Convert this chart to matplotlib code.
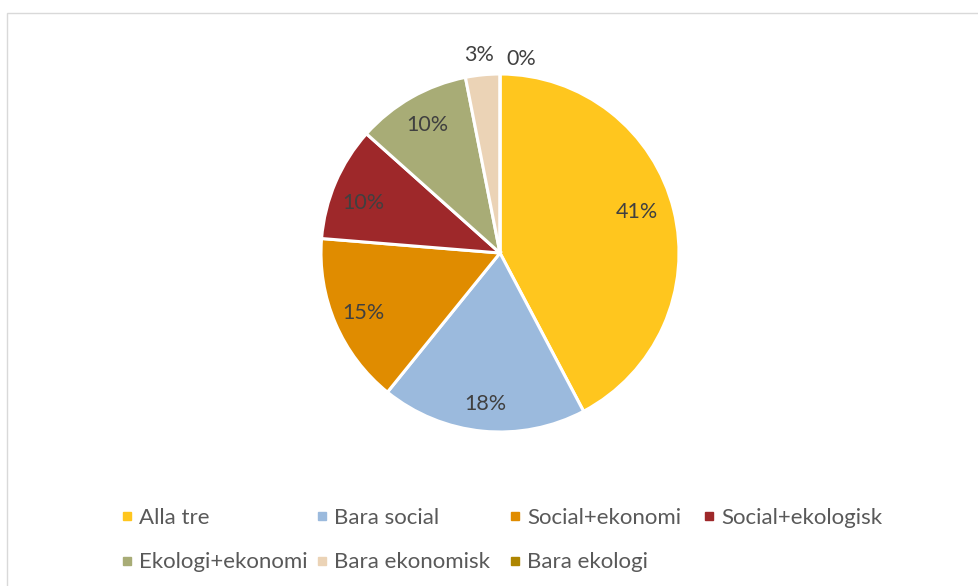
import numpy as np
import matplotlib
matplotlib.use('Agg')
import matplotlib.pyplot as plt
from matplotlib.lines import Line2D
from matplotlib.patches import Rectangle

plt.rcParams['font.family'] = ['Lato', 'DejaVu Sans']

categories = ['Alla tre', 'Bara social', 'Social+ekonomi', 'Social+ekologisk',
              'Ekologi+ekonomi', 'Bara ekonomisk', 'Bara ekologi']
values = [41, 18, 15, 10, 10, 3, 0]
colors = ['#FFC61E', '#9BBADD', '#E08C00', '#9E282A', '#A8AC76', '#EBD3B6', '#AE8500']

# label distance from centre (radii) and a small nudge in pixels (x, y up)
label_r = [0.80, 0.85, 0.83, 0.82, 0.82, 1.11, 1.10]
label_nudge = [(-2, 7), (0, 0), (0, -1), (-2, -8), (0, 0), (-2, 0), (21, -3)]

W, H = 979, 586
fig = plt.figure(figsize=(W / 100, H / 100), dpi=100)

# thin grey chart-area border
fig.add_artist(Rectangle((7 / W, -0.1), 1.2, (H - 13) / H + 0.1, transform=fig.transFigure,
                         fill=False, edgecolor='#D9D9D9', linewidth=1))

cx, cy, rad = 500, 253, 179
ax = fig.add_axes([(cx - rad) / W, (H - cy - rad) / H, 2 * rad / W, 2 * rad / H])
wedges, _ = ax.pie(values, colors=colors, startangle=90, counterclock=False, radius=1,
                   wedgeprops=dict(edgecolor='white', linewidth=2.2))
ax.set_xlim(-1, 1)
ax.set_ylim(-1, 1)
ax.set_aspect('auto')
ax.axis('off')

for w, v, r, (nx, ny) in zip(wedges, values, label_r, label_nudge):
    ang = np.deg2rad((w.theta1 + w.theta2) / 2)
    ax.annotate(f'{v}%', (r * np.cos(ang), r * np.sin(ang)), xytext=(nx * 0.72, ny * 0.72),
                textcoords='offset points', ha='center', va='center',
                fontsize=15.5, color='#404040', annotation_clip=False)

# legend: one small legend per column so the columns sit on an even grid
col_x = [127, 322, 515, 709]
fs = 16
hl = 0.36
for c, x in enumerate(col_x):
    idx = [i for i in (c, c + 4) if i < len(categories)]
    handles = [Line2D([], [], marker='s', linestyle='', markersize=5.8, color=colors[i]) for i in idx]
    fig.legend(handles, [categories[i] for i in idx], loc='upper left',
               bbox_to_anchor=((x - hl * fs / 0.72 / 2) / W, (H - 508) / H),
               frameon=False, fontsize=fs, labelcolor='#595959', handlelength=hl,
               handletextpad=0.38, labelspacing=1.1, borderpad=0, borderaxespad=0)

fig.savefig('out.png', dpi=100, facecolor='white')
